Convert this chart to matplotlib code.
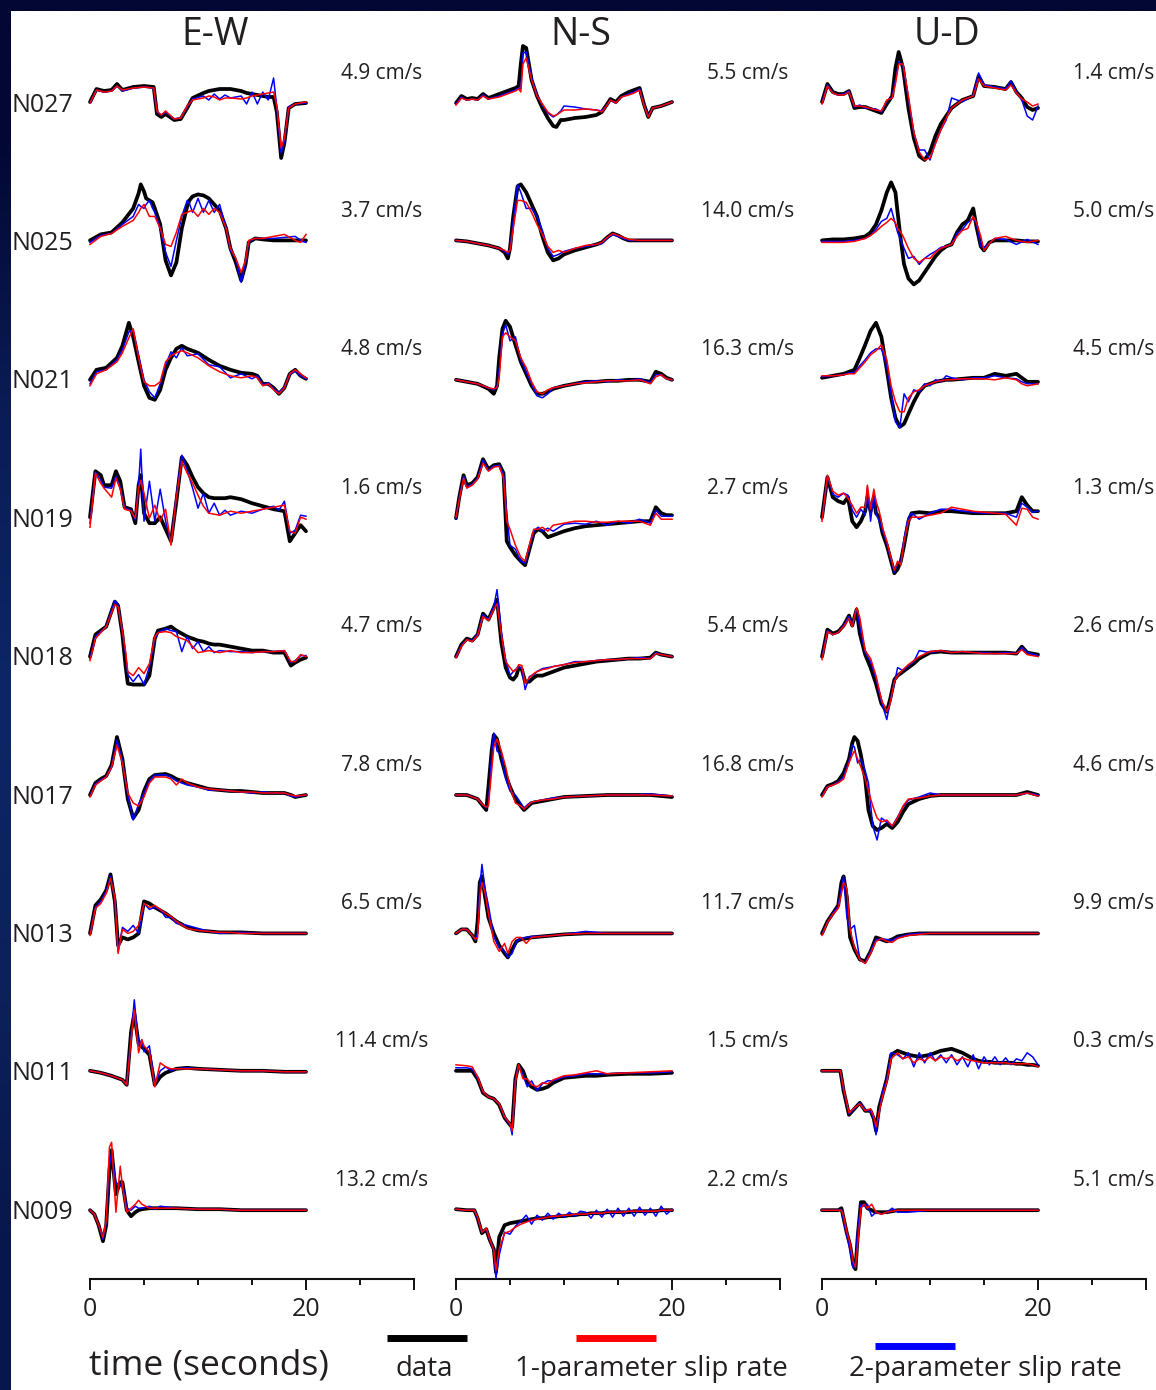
import numpy as np
import matplotlib
matplotlib.use("Agg")
import matplotlib.pyplot as plt
from matplotlib.lines import Line2D
from matplotlib.patches import Rectangle

plt.rcParams['font.family'] = ['Open Sans', 'DejaVu Sans']
TEXT = '#231f20'

STATIONS = ['N027', 'N025', 'N021', 'N019', 'N018', 'N017', 'N013', 'N011', 'N009']
COMPONENTS = ['E-W', 'N-S', 'U-D']

# peak velocity per station (cm/s)
PEAK_EW = [4.9, 3.7, 4.8, 1.6, 4.7, 7.8, 6.5, 11.4, 13.2]
PEAK_NS = [5.5, 14.0, 16.3, 2.7, 5.4, 16.8, 11.7, 1.5, 2.2]
PEAK_UD = [1.4, 5.0, 4.5, 1.3, 2.6, 4.6, 9.9, 0.3, 5.1]

# normalised velocity traces: time (s), data, 1-parameter and 2-parameter slip-rate fits
ew_n027_t = [0, .6, 1.3, 2, 2.5, 3, 4, 5, 5.9, 6.2, 6.6, 7, 7.8, 8.4, 9, 9.5, 10.5, 11, 11.5, 12, 12.5, 13, 14, 14.5, 15, 15.5, 16, 16.5, 17, 17.3, 17.7, 18, 18.4, 19, 20]
ew_n027_data = [1, 14, 12, 13, 19, 13, 16, 17, 16, -11, -14, -11, -17, -16, -5, 5, 10, 12, 13, 14, 14, 14, 12, 10, 9, 8, 7, 6, 6, -9, -55, -40, -5, -1, 0]
ew_n027_one = [0, 13, 11, 12, 17, 13, 15, 16, 15, -8, -12, -8, -16, -15, -3, 3, 5, 7, 6, 3, 5, 5, 4, 5, 7, 8, 9, 10, 11, -3, -45, -35, -5, -1, 1]
ew_n027_two = [0, 13, 11, 12, 17, 12, 15, 16, 15, -9, -12, -9, -16, -15, -4, 4, 7, 3, 9, 4, 8, 5, 7, -1, 11, -1, 11, 3, 25, -5, -50, -38, -4, -1, 0]

ew_n025_t = [0, 1, 2, 3, 4, 4.5, 4.7, 5, 5.2, 5.5, 5.8, 6, 6.5, 7, 7.5, 8, 8.5, 9, 9.2, 9.5, 10, 10.5, 11, 11.5, 12, 12.6, 13, 13.5, 14, 14.4, 14.7, 15.3, 16, 17, 18, 19, 19.5, 20]
ew_n025_data = [1, 7, 9, 19, 33, 48, 57, 50, 43, 41, 39, 33, 17, -19, -34, -21, 13, 35, 41, 45, 47, 46, 43, 37, 31, 13, -7, -21, -39, -23, -1, 3, 2, 1, 1, 1, 1, 1]
ew_n025_one = [-3, 5, 8, 15, 21, 29, 33, 37, 32, 25, 25, 25, 13, -3, -5, 9, 27, 29, 30, 31, 25, 33, 27, 33, 29, 13, -7, -17, -31, -19, 1, 3, 3, 5, 7, 1, -1, 7]
ew_n025_two = [-1, 6, 8, 17, 25, 37, 35, 33, 37, 41, 33, 29, 13, -11, -25, 1, 25, 41, 38, 29, 43, 29, 41, 29, 37, 13, -9, -17, -41, -21, 0, 3, 3, 3, 4, 5, 1, -1]

ew_n021_t = [0, 0.6, 1.5, 2.5, 3, 3.6, 4, 4.5, 5, 5.5, 6, 6.5, 7, 7.5, 8, 8.5, 9, 10, 11, 12, 13, 14, 15, 15.5, 16, 16.5, 17, 17.5, 18, 18.5, 19, 19.5, 20]
ew_n021_data = [0, 10, 12, 22, 34, 57, 43, 18, -6, -18, -20, -10, 10, 22, 31, 34, 31, 27, 20, 14, 10, 7, 6, 4, -4, -4, -8, -14, -8, 6, 10, 4, 1]
ew_n021_one = [-6, 6, 10, 18, 27, 42, 51, 22, -2, -6, -6, -2, 18, 24, 27, 29, 27, 22, 14, 8, 4, 2, 4, 2, -6, -4, -10, -14, -8, 6, 10, 6, 2]
ew_n021_two = [-4, 8, 10, 20, 30, 48, 50, 25, 0, -12, -18, -4, 15, 28, 22, 32, 24, 26, 15, 13, 2, 6, 1, 4, -5, -3, -9, -13, -7, 5, 9, 4, 1]

ew_n019_t = [0, 0.5, 1, 1.3, 2, 2.4, 2.8, 3.2, 3.8, 4.2, 4.5, 4.7, 5, 5.5, 6, 6.5, 7, 7.5, 8, 8.5, 9, 9.5, 10, 10.5, 11, 11.5, 12, 12.5, 13, 14, 15, 16, 17, 17.5, 18, 18.5, 19, 19.5, 20]
ew_n019_data = [1, 47, 43, 33, 33, 47, 37, 11, 9, -5, 33, 43, 5, -5, -5, 1, -11, -23, 17, 61, 53, 41, 31, 25, 21, 20, 20, 20, 21, 19, 15, 12, 9, 8, 7, -23, -15, -7, -13]
ew_n019_one = [-9, 45, 35, 30, 21, 40, 29, 9, 7, 0, 30, 38, 25, 0, 13, -3, 9, -27, 21, 57, 45, 35, 23, 12, 5, 4, 3, 5, 7, 5, 7, 9, 11, 12, 13, -13, -15, 1, -1]
ew_n019_two = [-5, 46, 38, 31, 30, 42, 31, 10, 8, -2, 33, 69, -3, 37, -3, 29, -3, -25, 23, 63, 48, 30, 10, 25, 5, 15, 3, 8, 3, 7, 5, 9, 12, 8, 17, -15, -12, 3, 2]

ew_n018_t = [0, 0.5, 1, 1.5, 2.3, 2.6, 3, 3.3, 3.5, 4, 4.5, 5, 5.5, 6, 6.3, 7, 7.5, 8, 8.5, 9, 9.5, 10, 10.5, 11, 11.5, 12, 13, 14, 15, 16, 17, 18, 18.6, 19, 19.5, 20]
ew_n018_data = [0, 22, 26, 30, 55, 51, 22, -10, -27, -28, -28, -28, -19, 18, 26, 28, 30, 26, 23, 20, 18, 16, 15, 13, 12, 12, 10, 8, 6, 6, 4, 4, -9, -6, -3, -1]
ew_n018_one = [-4, 18, 24, 30, 52, 50, 25, 5, -15, -19, -11, -17, -7, 20, 24, 25, 24, 20, 18, 16, 10, 4, 5, 6, 5, 4, 6, 4, 4, 5, 5, 6, -5, -5, 2, 0]
ew_n018_two = [-2, 20, 25, 30, 56, 52, 26, 2, -18, -25, -18, -28, -10, 18, 24, 28, 26, 25, 5, 20, 8, 15, 5, 10, 4, 6, 5, 5, 4, 5, 5, 6, -6, -4, 1, 1]

ew_n017_t = [0, 0.5, 1, 1.5, 2, 2.5, 3, 3.5, 4, 4.5, 5, 5.5, 6, 7, 7.5, 8, 8.5, 9, 10, 11, 12, 13, 14, 15, 16, 17, 18, 18.6, 19, 20]
ew_n017_data = [0, 12, 16, 19, 30, 58, 36, -4, -23, -15, 4, 16, 20, 21, 19, 16, 14, 12, 9, 6, 5, 4, 4, 3, 2, 2, 2, 0, -2, 0]
ew_n017_one = [-2, 10, 14, 18, 28, 50, 32, 2, -8, -11, -2, 12, 18, 18, 16, 10, 16, 12, 8, 6, 5, 4, 3, 3, 2, 2, 2, 0, -1, 0]
ew_n017_two = [-1, 11, 15, 18, 29, 55, 34, 0, -25, -9, 2, 14, 20, 20, 18, 14, 12, 10, 8, 5, 5, 4, 3, 2, 3, 2, 2, -1, -2, 0]

ew_n013_t = [0, 0.5, 1, 1.5, 1.9, 2.3, 2.6, 3, 3.5, 4, 4.5, 5, 5.5, 6, 6.5, 7, 7.5, 8, 9, 10, 11, 12, 13, 14, 16, 18, 20]
ew_n013_data = [0, 28, 34, 43, 59, 32, -12, -4, -6, -4, 0, 32, 30, 26, 23, 20, 16, 12, 6, 3, 2, 1, 1, 1, 0, 0, 0]
ew_n013_one = [-2, 25, 30, 40, 55, 36, -20, 4, 0, 2, 8, 30, 26, 28, 24, 20, 17, 12, 5, 3, 2, 1, 1, 0, 0, 0, 0]
ew_n013_two = [-1, 26, 32, 42, 57, 34, -18, 6, 2, 8, 0, 30, 24, 26, 24, 16, 16, 10, 8, 5, 2, 0, 1, 1, 0, 0, 0]

ew_n011_t = [0, 1, 2, 3, 3.4, 3.8, 4.1, 4.5, 4.8, 5, 5.5, 6, 6.5, 7, 7.5, 8, 9, 10, 12, 14, 16, 18, 20]
ew_n011_data = [1, -1, -4, -8, -13, 40, 58, 28, 25, 23, 17, -13, -5, -1, 1, 3, 4, 3, 2, 1, 1, 0, 0]
ew_n011_one = [1, -1, -4, -8, -13, 32, 62, 19, 32, 26, 20, -15, 9, 5, 3, 3, 3, 3, 2, 1, 1, 0, 0]
ew_n011_two = [1, -1, -4, -8, -13, 35, 72, 26, 32, 20, 26, -13, 1, 5, 1, 3, 4, 3, 2, 1, 1, 0, 0]

ew_n009_t = [0, 0.4, 0.8, 1.2, 1.5, 1.8, 2, 2.4, 2.8, 3, 3.4, 3.8, 4.2, 4.5, 4.8, 5.5, 6, 6.5, 8, 10, 12, 14, 16, 18, 20]
ew_n009_data = [0, -4, -15, -31, -15, 40, 60, 16, 28, 28, 0, -6, -2, 0, 1, 2, 2, 2, 2, 1, 1, 0, 0, 0, 0]
ew_n009_one = [0, -4, -15, -27, -11, 63, 68, -2, 44, 24, -2, 2, 6, 10, 6, 2, 2, 2, 2, 1, 1, 0, 0, 0, 0]
ew_n009_two = [0, -4, -15, -29, -13, 45, 56, 28, 24, 28, 2, 0, 4, 2, 2, 4, 1, 4, 2, 1, 1, 0, 0, 0, 0]

ns_n027_t = [0, 0.5, 1, 1.5, 2, 2.5, 3, 4, 5, 5.5, 5.8, 6, 6.2, 6.5, 7, 7.5, 8, 8.5, 9, 9.3, 9.7, 10, 11, 12, 13, 13.5, 14, 14.3, 14.8, 15.3, 16, 16.5, 17, 17.4, 17.8, 18.2, 19, 20]
ns_n027_data = [0, 7, 4, 5, 4, 9, 5, 9, 13, 15, 17, 39, 57, 55, 23, 7, -5, -15, -23, -24, -17, -17, -15, -14, -12, -9, -1, 4, 1, 7, 11, 13, 15, -1, -14, -5, -3, 1]
ns_n027_one = [-2, 5, 3, 4, 3, 7, 4, 6, 10, 12, 14, 11, 39, 45, 23, 7, -1, -9, -13, -12, -9, -7, -7, -6, -7, -9, -2, 3, 0, 6, 8, 10, 13, -2, -14, -5, -3, 1]
ns_n027_two = [-1, 6, 3, 4, 3, 8, 4, 7, 11, 13, 15, 14, 50, 51, 25, 8, -2, -10, -14, -12, -8, -3, -4, -6, -7, -8, -2, 3, 0, 6, 9, 11, 14, -1, -13, -5, -3, 1]

ns_n025_t = [0, 1, 2, 3, 4, 4.5, 4.8, 5, 5.3, 5.7, 6, 6.5, 7, 7.5, 8, 8.5, 9, 9.5, 10, 11, 12, 13, 13.5, 14, 14.5, 15, 15.5, 16, 17, 18, 20]
ns_n025_data = [1, 0, -2, -4, -7, -11, -17, -7, 25, 55, 57, 49, 37, 25, 5, -11, -19, -17, -13, -9, -6, -3, -1, 4, 8, 6, 3, 1, 1, 1, 1]
ns_n025_one = [1, 0, -2, -4, -7, -9, -11, -9, 13, 41, 41, 39, 29, 17, 7, -5, -11, -9, -11, -7, -4, -3, -1, 4, 8, 6, 4, 2, 1, 1, 1]
ns_n025_two = [1, 0, -2, -4, -7, -10, -13, -8, 20, 57, 49, 33, 33, 25, 11, -7, -15, -13, -10, -7, -5, -3, -2, 3, 7, 5, 3, 1, 1, 1, 1]

ns_n021_t = [0, 1, 2, 3, 3.5, 3.8, 4, 4.3, 4.6, 5, 5.5, 6, 6.5, 7, 7.5, 8, 8.5, 9, 10, 11, 12, 13, 14, 15, 16, 17, 18, 18.5, 19, 19.5, 20]
ns_n021_data = [0, -2, -4, -9, -14, -6, 22, 51, 59, 53, 35, 18, 6, -6, -14, -14, -12, -9, -6, -4, -2, -2, -1, -1, 0, 0, -2, 8, 6, 2, 0]
ns_n021_one = [0, -2, -4, -8, -9, -8, 2, 43, 47, 43, 39, 22, 12, -2, -12, -14, -10, -8, -6, -4, -3, -2, -1, -1, -1, 0, -4, 3, 5, 1, 0]
ns_n021_two = [0, -2, -4, -8, -10, -8, 10, 46, 55, 39, 43, 20, 8, -4, -16, -18, -14, -8, -6, -4, -2, -1, -2, 0, -1, 1, -3, 5, 5, 1, 0]

ns_n019_t = [0, 0.3, 0.7, 1, 1.5, 2, 2.5, 3, 3.5, 4, 4.4, 4.7, 5, 5.5, 6, 6.4, 6.8, 7.2, 7.6, 8, 8.5, 9, 10, 11, 12, 13, 14, 15, 16, 17, 18, 18.5, 19, 19.5, 20]
ns_n019_data = [0, 21, 43, 33, 35, 41, 59, 49, 53, 54, 45, -23, -29, -37, -43, -47, -31, -15, -11, -13, -19, -17, -13, -10, -8, -7, -6, -5, -4, -3, -3, 11, 5, 3, 3]
ns_n019_one = [1, 19, 40, 30, 33, 39, 55, 47, 51, 52, 40, -3, -11, -27, -39, -43, -27, -11, -11, -9, -13, -7, -5, -3, -3, -4, -4, -3, -3, -3, -7, 5, -1, -1, -1]
ns_n019_two = [0, 20, 42, 31, 34, 40, 58, 48, 52, 53, 44, 5, -27, -31, -43, -45, -29, -13, -9, -13, -10, -13, -6, -5, -6, -3, -7, -3, -5, -1, -5, 8, 2, 2, 2]

ns_n018_t = [0, 0.5, 1, 1.5, 2, 2.5, 3, 3.5, 3.8, 4.2, 4.6, 5, 5.3, 5.6, 5.8, 6.1, 6.4, 6.8, 7.2, 7.5, 8, 8.5, 9, 10, 11, 12, 13, 14, 15, 16, 17, 18, 18.5, 19, 20]
ns_n018_data = [0, 12, 18, 16, 22, 43, 37, 49, 57, 14, -11, -21, -23, -19, -11, -13, -25, -25, -21, -19, -19, -17, -15, -11, -9, -7, -5, -4, -3, -2, -2, -1, 4, 2, 0]
ns_n018_one = [-1, 10, 17, 15, 21, 40, 36, 47, 53, 22, -5, -11, -15, -13, -8, -9, -27, -21, -17, -15, -13, -12, -10, -8, -6, -5, -4, -3, -3, -2, -2, -2, 3, 2, 0]
ns_n018_two = [0, 11, 17, 16, 22, 42, 37, 50, 67, 25, -3, -19, -15, -12, -10, -12, -33, -20, -18, -15, -12, -11, -10, -8, -5, -5, -4, -3, -3, -2, -1, -2, 4, 2, 0]

ns_n017_t = [0, 1, 2, 2.5, 2.8, 3, 3.3, 3.5, 3.8, 4.2, 4.6, 5, 5.5, 6, 6.3, 6.7, 7, 8, 9, 10, 12, 14, 16, 18, 20]
ns_n017_data = [0, 0, -4, -11, -15, 8, 44, 60, 56, 36, 20, 8, -4, -11, -15, -11, -8, -6, -4, -2, -1, 0, 0, 0, -2]
ns_n017_one = [0, 0, -4, -10, -12, -11, 24, 48, 56, 44, 28, 8, -8, -11, -14, -10, -7, -5, -4, -2, -1, 0, 0, 0, -1]
ns_n017_two = [0, 0, -4, -10, -13, -9, 40, 62, 44, 40, 16, 4, 0, -8, -13, -9, -7, -5, -3, -2, -1, 0, 0, 1, -1]

ns_n013_t = [0, 0.5, 1, 1.5, 1.8, 2, 2.2, 2.4, 2.7, 3, 3.5, 4, 4.5, 4.8, 5.2, 5.6, 6, 6.5, 7, 8, 9, 10, 12, 14, 16, 18, 20]
ns_n013_data = [0, 4, 4, -2, -8, 12, 51, 57, 36, 16, 0, -12, -20, -24, -16, -8, -6, -5, -4, -3, -2, -1, 0, 0, 0, 0, 0]
ns_n013_one = [0, 4, 4, -2, -6, -4, 36, 51, 40, 20, -8, -18, -10, -20, -8, -4, -4, -10, -4, -3, -2, -1, 0, 0, 0, 0, 0]
ns_n013_two = [0, 4, 4, -2, -7, 0, 45, 69, 44, 28, -3, -14, -18, -24, -20, -8, -5, -4, -3, -3, -2, -1, 2, 0, 0, 0, 0]

ns_n011_t = [0, 1, 1.5, 2, 2.5, 3, 3.5, 4, 4.5, 5, 5.2, 5.5, 5.8, 6.2, 6.6, 7, 7.5, 8, 8.5, 9, 10, 11, 12, 13, 14, 16, 18, 20]
ns_n011_data = [1, 1, 1, -7, -21, -25, -27, -33, -46, -53, -55, -7, 7, 1, -11, -15, -18, -17, -15, -11, -6, -5, -4, -4, -3, -2, -2, -1]
ns_n011_one = [7, 6, 5, -5, -20, -25, -27, -32, -45, -52, -59, -10, 7, -7, -7, -13, -15, -11, -12, -8, -4, -3, -1, 1, -2, -1, 0, 1]
ns_n011_two = [4, 4, 3, -6, -20, -25, -27, -32, -45, -53, -63, -8, 7, -3, -15, -9, -19, -12, -9, -9, -5, -4, -2, -2, -2, -1, -1, 0]

ns_n009_t = [0, 1, 1.7, 2, 2.4, 2.8, 3.1, 3.5, 3.7, 4, 4.5, 5, 5.5, 6, 6.5, 7, 7.5, 8, 8.5, 9, 9.5, 10, 10.5, 11, 11.5, 12, 12.5, 13, 13.5, 14, 14.5, 15, 15.5, 16, 16.5, 17, 17.5, 18, 18.5, 19, 19.5, 20]
ns_n009_data = [1, 0, 0, -8, -23, -19, -29, -39, -62, -27, -15, -13, -12, -11, -10, -9, -8, -8, -7, -7, -6, -6, -5, -5, -4, -4, -3, -3, -3, -2, -2, -2, -2, -2, -1, -1, -1, -1, -1, 0, 0, 0]
ns_n009_one = [1, 0, 0, -7, -22, -18, -28, -40, -60, -39, -23, -21, -17, -14, -12, -10, -9, -8, -7, -6, -6, -5, -5, -4, -4, -4, -3, -3, -3, -2, -2, -2, -2, -1, -1, -1, -1, -1, -1, 0, 0, 0]
ns_n009_two = [1, 0, 0, -8, -22, -19, -29, -40, -68, -45, -22, -24, -16, -11, -5, -14, -5, -10, -3, -9, -3, -7, -2, -6, -1, -2, -8, 0, -7, 1, -7, 2, -6, 2, -6, 3, -5, 2, -6, 4, -4, 1]

ud_n027_t = [0, 0.5, 1, 1.5, 2, 2.5, 3, 3.5, 4, 5, 5.5, 6, 6.5, 6.8, 7.1, 7.5, 8, 8.5, 9, 9.5, 10, 10.5, 11, 11.5, 12, 13, 14, 14.5, 15, 16, 17, 17.5, 18, 18.5, 19, 19.5, 20]
ud_n027_data = [1, 19, 11, 9, 9, 12, -5, -4, -4, -8, -10, -1, 7, 35, 51, 35, -5, -35, -53, -57, -49, -33, -21, -13, -5, 3, 7, 27, 17, 16, 14, 21, 11, 5, -4, -7, -5]
ud_n027_one = [-1, 17, 10, 8, 8, 11, -3, -3, -4, -7, -8, 3, 5, 19, 39, 39, 7, -29, -49, -57, -55, -41, -27, -15, -5, 3, 7, 24, 17, 15, 13, 18, 10, 4, 1, -3, -1]
ud_n027_two = [0, 18, 10, 8, 9, 12, -4, -2, -5, -6, -9, 2, 6, 22, 41, 38, 5, -30, -47, -47, -57, -40, -27, -17, 5, 1, 8, 30, 18, 16, 14, 22, 11, 3, -13, -17, -3]

ud_n025_t = [0, 1, 2, 3, 4, 4.5, 5, 5.5, 6, 6.4, 6.8, 7, 7.3, 7.6, 8, 8.5, 9, 9.5, 10, 10.5, 11, 11.5, 12, 12.5, 13, 13.5, 14, 14.3, 14.7, 15, 15.5, 16, 17, 18, 19, 20]
ud_n025_data = [1, 2, 2, 3, 5, 9, 17, 31, 49, 59, 49, 29, 1, -23, -37, -43, -39, -31, -23, -15, -9, -5, -3, 9, 17, 21, 33, 15, -5, -9, -1, 1, 1, 1, 0, 0]
ud_n025_one = [-1, -1, -1, 0, 3, 6, 10, 15, 19, 23, 19, 13, 9, 3, -7, -17, -21, -17, -17, -11, -7, -5, -3, 5, 11, 13, 25, 19, 5, -9, -2, 3, 5, 1, -1, 1]
ud_n025_two = [0, 0, 0, 1, 3, 6, 12, 20, 23, 33, 17, 9, 1, -7, -17, -15, -23, -17, -13, -10, -6, -5, -3, 8, 12, 19, 23, 18, -5, -6, -2, 3, 2, -3, 2, -3]

ud_n021_t = [0, 1, 2, 2.5, 3, 3.5, 4, 4.5, 5, 5.5, 6, 6.4, 6.8, 7.2, 7.6, 8, 8.5, 9, 9.5, 10, 10.5, 11, 11.5, 12, 13, 14, 15, 16, 17, 18, 18.5, 19, 20]
ud_n021_data = [2, 4, 6, 8, 10, 22, 35, 49, 57, 43, 10, -18, -38, -47, -44, -34, -22, -12, -6, -4, -2, -1, 0, 0, 1, 2, 2, 6, 4, 6, 2, -2, -2]
ud_n021_one = [4, 4, 5, 6, 6, 12, 18, 25, 29, 35, 20, -6, -22, -32, -32, -18, -12, -10, -6, -4, -2, -1, 0, 0, 1, 1, 1, 0, 2, 0, -4, -6, -4]
ud_n021_two = [3, 4, 5, 7, 7, 14, 20, 27, 31, 31, 14, -14, -42, -48, -14, -22, -10, -12, -4, -6, 0, -2, 4, 2, 0, 2, 2, 4, 2, 1, -2, -4, -4]

ud_n019_t = [0, 0.5, 1, 1.5, 2, 2.4, 2.8, 3.2, 3.6, 4, 4.2, 4.5, 4.8, 5, 5.3, 5.6, 6, 6.4, 6.7, 7, 7.3, 7.6, 8, 8.3, 9, 10, 11, 12, 13, 14, 15, 16, 17, 18, 18.5, 19, 19.5, 20]
ud_n019_data = [1, 41, 21, 17, 15, 21, -3, -9, -3, 7, 21, 7, 21, 5, 1, -15, -27, -43, -55, -51, -43, -27, -3, 5, 6, 5, 7, 7, 6, 5, 5, 5, 5, 7, 21, 13, 7, 7]
ud_n019_one = [-3, 43, 27, 23, 25, 20, 13, 5, 11, 11, 33, 9, 29, 17, 7, -9, -23, -40, -52, -43, -47, -23, -3, 1, 1, 3, 5, 11, 9, 7, 6, 5, 4, -7, 10, 9, 1, -1]
ud_n019_two = [-1, 42, 24, 21, 25, 23, 8, 1, 9, 3, 31, -3, 25, 5, -3, -12, -25, -42, -54, -45, -44, -20, 1, 5, -1, 5, 9, 9, 7, 6, 5, 5, 5, 1, 15, 11, 6, 7]

ud_n018_t = [0, 0.5, 1, 1.5, 2, 2.5, 2.8, 3.2, 3.5, 4, 4.5, 5, 5.5, 6, 6.3, 6.7, 7, 7.5, 8, 8.5, 9, 10, 11, 12, 13, 14, 15, 16, 17, 18, 18.5, 19, 20]
ud_n018_data = [0, 27, 23, 25, 31, 41, 31, 47, 23, 2, -11, -27, -47, -55, -43, -23, -19, -15, -11, -7, -2, 4, 5, 4, 4, 4, 4, 4, 4, 3, 10, 4, 2]
ud_n018_one = [-3, 25, 22, 24, 30, 38, 30, 49, 39, 6, -2, -19, -43, -55, -47, -25, -19, -13, -8, -4, 0, 5, 6, 4, 5, 4, 3, 3, 3, 3, 7, 2, 0]
ud_n018_two = [-1, 26, 22, 24, 31, 40, 31, 48, 30, 4, -5, -22, -45, -63, -45, -27, -11, -14, -9, -5, 6, 4, 6, 4, 5, 4, 4, 3, 4, 3, 9, 4, 1]

ud_n017_t = [0, 0.5, 1, 1.5, 2, 2.5, 2.8, 3, 3.3, 3.6, 4, 4.3, 4.7, 5.1, 5.5, 6, 6.5, 7, 7.5, 8, 9, 10, 11, 12, 14, 16, 18, 19, 20]
ud_n017_data = [0, 9, 11, 14, 22, 36, 52, 58, 54, 40, 16, -15, -31, -35, -33, -29, -33, -27, -17, -9, -4, -1, 0, 0, 0, 0, 0, 3, 0]
ud_n017_one = [-2, 8, 10, 12, 16, 32, 40, 44, 36, 28, 16, 4, -11, -23, -27, -25, -31, -23, -11, -4, -3, -1, 0, 0, 0, 0, 0, 2, -1]
ud_n017_two = [-1, 8, 10, 13, 18, 34, 50, 48, 32, 36, 24, 12, -31, -45, -23, -27, -31, -22, -12, -5, -2, 2, 0, 0, 0, 0, 0, 2, 0]

ud_n013_t = [0, 0.5, 1, 1.5, 1.8, 2, 2.3, 2.6, 3, 3.5, 4, 4.5, 5, 5.5, 6, 6.5, 7, 8, 9, 10, 12, 14, 16, 18, 20]
ud_n013_data = [0, 12, 20, 28, 51, 57, 36, -4, -16, -26, -28, -18, -4, -6, -8, -6, -3, -1, 0, 0, 0, 0, 0, 0, 0]
ud_n013_one = [-2, 11, 19, 25, 40, 51, 45, 4, -14, -26, -30, -20, -8, -5, -8, -9, -5, -2, -1, 0, 0, 0, 0, 0, 0]
ud_n013_two = [-1, 11, 20, 27, 46, 57, 16, 4, 8, -26, -30, -18, -6, -6, -6, -7, -4, -1, 0, 0, 0, 0, 0, 0, 0]

ud_n011_t = [0, 1, 1.7, 2, 2.5, 3, 3.5, 4, 4.5, 4.8, 5, 5.3, 5.6, 6, 6.4, 7, 7.5, 8, 8.5, 9, 9.5, 10, 10.5, 11, 11.5, 12, 12.5, 13, 13.5, 14, 14.5, 15, 15.5, 16, 16.5, 17, 17.5, 18, 18.5, 19, 19.5, 20]
ud_n011_data = [1, 1, 1, -19, -43, -37, -31, -39, -39, -47, -59, -35, -23, -7, 17, 21, 19, 17, 16, 15, 16, 17, 19, 21, 22, 23, 21, 19, 16, 13, 11, 10, 10, 9, 9, 9, 9, 8, 8, 7, 7, 6]
ud_n011_one = [1, 1, 1, -17, -41, -36, -32, -39, -37, -45, -55, -40, -25, -10, 13, 19, 13, 15, 9, 13, 11, 15, 11, 15, 13, 15, 11, 14, 12, 11, 10, 9, 9, 9, 9, 9, 8, 8, 8, 8, 7, 5]
ud_n011_two = [1, 1, 1, -18, -42, -37, -31, -38, -40, -47, -63, -40, -20, -8, 19, 17, 13, 19, 5, 19, 9, 19, 11, 17, 9, 17, 7, 15, 5, 17, 3, 15, 7, 15, 7, 14, 7, 13, 11, 19, 15, 7]

ud_n009_t = [0, 1, 1.5, 1.8, 2, 2.3, 2.6, 2.9, 3.1, 3.3, 3.6, 3.9, 4.2, 4.6, 5, 5.5, 6, 6.5, 7, 8, 10, 12, 14, 16, 18, 20]
ud_n009_data = [0, 0, 0, 2, -8, -23, -35, -55, -59, -27, 8, 8, 2, 0, -2, -2, -2, -1, 0, 0, 0, 0, 0, 0, 0, 0]
ud_n009_one = [0, 0, 0, 0, -6, -22, -33, -52, -57, -35, 2, 6, 2, 6, -2, -4, -2, -1, 0, 0, 0, 0, 0, 0, 0, 0]
ud_n009_two = [0, 0, 0, 1, -10, -25, -40, -58, -55, -20, 6, 4, 6, -6, -2, -4, -2, 2, -2, -2, 0, 0, 0, 0, 0, 0]

PEAKS = {'E-W': PEAK_EW, 'N-S': PEAK_NS, 'U-D': PEAK_UD}
PREFIX = {'E-W': 'ew', 'N-S': 'ns', 'U-D': 'ud'}

# layout in pixels
W, H = 1156, 1390
COL_X0 = [90, 456, 822]
PX_PER_S = 10.8
AX_TOP, AX_BOTTOM = 20, 1279
ROW0 = 103
ROW_GAP = 138.4

fig = plt.figure(figsize=(W / 100, H / 100), dpi=100)

# navy slide background with the white panel on top
bg = fig.add_axes([0, 0, 1, 1], zorder=-10)
shade = np.array([[0.01, 0.03, 0.20], [0.04, 0.11, 0.34], [0.05, 0.15, 0.40],
                  [0.05, 0.13, 0.36], [0.03, 0.09, 0.30]])
bg.imshow(shade[:, None, :], aspect='auto', extent=[0, 1, 0, 1], interpolation='bilinear')
bg.axis('off')
fig.patches.append(Rectangle((11 / W, 0), 1 - 11 / W, (H - 11) / H, transform=fig.transFigure,
                             facecolor='white', edgecolor='none', zorder=-5))

for c, comp in enumerate(COMPONENTS):
    ax = fig.add_axes([COL_X0[c] / W, (H - AX_BOTTOM) / H,
                       30 * PX_PER_S / W, (AX_BOTTOM - AX_TOP) / H])
    ax.set_xlim(0, 30)
    ax.set_ylim(-(AX_BOTTOM - ROW0), ROW0 - AX_TOP)
    ax.patch.set_visible(False)
    for s in ['top', 'right', 'left']:
        ax.spines[s].set_visible(False)
    ax.spines['bottom'].set_linewidth(1.5)
    ax.spines['bottom'].set_color('#111111')
    ax.set_yticks([])
    ax.set_xticks([0, 20, 30])
    ax.set_xticklabels(['0', '20', ''])
    ax.set_xticks([5, 10, 15, 25], minor=True)
    ax.tick_params(axis='x', which='major', direction='out', length=8, width=1.4,
                   labelsize=18, pad=5, labelcolor=TEXT, color='#111111')
    ax.tick_params(axis='x', which='minor', direction='out', length=4, width=1.4, color='#111111')

    ax.text(11.6, ROW0 - 35, comp, ha='center', va='center', fontsize=27, color=TEXT)

    for r, sta in enumerate(STATIONS):
        name = PREFIX[comp] + '_' + sta.lower()
        t = globals()[name + '_t']
        base = -r * ROW_GAP
        ax.plot(t, base + np.array(globals()[name + '_data']), color='black', lw=2.7,
                solid_joinstyle='round', solid_capstyle='round', zorder=2, clip_on=False)
        ax.plot(t, base + np.array(globals()[name + '_two']), color='#0000ff', lw=1.1,
                solid_joinstyle='round', zorder=3, clip_on=False)
        ax.plot(t, base + np.array(globals()[name + '_one']), color='#ff0000', lw=1.1,
                solid_joinstyle='round', zorder=4, clip_on=False)
        ax.text(27, base + 30, f"{PEAKS[comp][r]:.1f} cm/s", ha='center', va='center',
                fontsize=15, color=TEXT, clip_on=False)

for r, sta in enumerate(STATIONS):
    fig.text(12 / W, (H - (ROW0 + 2 + r * ROW_GAP)) / H, sta, ha='left', va='center',
             fontsize=18, color=TEXT)

# legend keys
keys = [('black', 387, 1338, 'data', 424),
        ('#ff0000', 576, 1338, '1-parameter slip rate', 651),
        ('#0000ff', 875, 1346, '2-parameter slip rate', 985)]
for col, x0, y0, label, xc in keys:
    fig.add_artist(Line2D([x0 / W, (x0 + 80) / W], [(H - y0) / H] * 2, color=col, lw=5,
                          solid_capstyle='butt'))
    fig.text(xc / W, (H - 1369) / H, label, ha='center', va='center', fontsize=20, color=TEXT)

fig.text(209 / W, (H - 1366) / H, 'time (seconds)', ha='center', va='center',
         fontsize=25.5, color=TEXT)

fig.savefig('out.png', dpi=100)
